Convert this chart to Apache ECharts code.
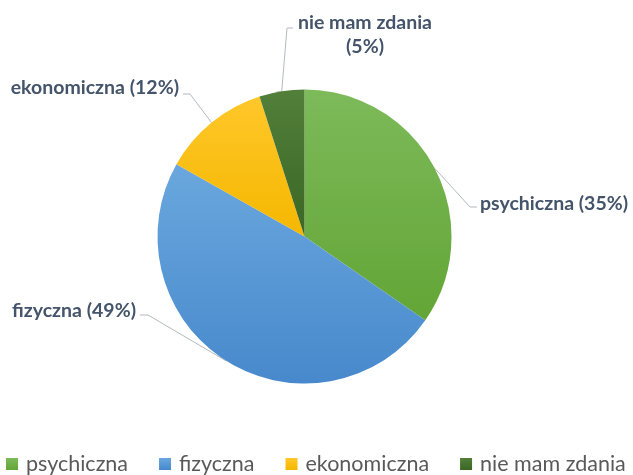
<!DOCTYPE html>
<html><head><meta charset="utf-8">
<script src="https://cdn.jsdelivr.net/npm/echarts@6/dist/echarts.min.js"></script>
<style>html,body{margin:0;padding:0;background:#fff}#c{width:633px;height:475px}</style>
</head><body><div id="c"></div>
<script>
const categories = ['psychiczna', 'fizyczna', 'ekonomiczna', 'nie mam zdania'];
const values = [35, 49, 12, 5];
const colorsTop = ['#7dba5a', '#6aa7de', '#ffc72a', '#527f3a'];
const colorsBottom = ['#63a536', '#4789cc', '#f5b700', '#3b6625'];

// label placement (layout, not data)
const labelPos = [
  {x: 480, y: 204, align: 'left', verticalAlign: 'middle', bend: [470, 207], end: [477, 207]},
  {x: 136, y: 311, align: 'right', verticalAlign: 'middle', bend: [148, 315], end: [140, 315]},
  {x: 179, y: 88, align: 'right', verticalAlign: 'middle', bend: [190, 94], end: [183, 94]},
  {x: 365, y: 35, align: 'center', verticalAlign: 'middle', bend: [287, 28], end: [293, 28]}
];

const chart = echarts.init(document.getElementById('c'));
chart.setOption({
  animation: false,
  legend: {
    top: 453, left: 6, width: 650, padding: 0,
    itemWidth: 12, itemHeight: 12, itemGap: 31,
    icon: 'rect',
    textStyle: {fontFamily: 'Lato', fontSize: 21.5, color: '#595959', padding: [0, 0, 0, 3]},
    data: categories
  },
  series: [{
    type: 'pie',
    center: [304.5, 236.5],
    radius: 147,
    startAngle: 90,
    clockwise: true,
    avoidLabelOverlap: false,
    data: categories.map((n, i) => ({
      name: n, value: values[i],
      itemStyle: {color: new echarts.graphic.LinearGradient(0, 0, 0, 1, [
        {offset: 0, color: colorsTop[i]}, {offset: 1, color: colorsBottom[i]}])}
    })),
    label: {
      show: true, position: 'outside',
      fontFamily: 'Lato', fontWeight: 'bold', fontSize: 19.5, color: '#44546a', lineHeight: 24,
      formatter: p => p.dataIndex === 3 ? p.name + '\n(' + p.value + '%)' : p.name + ' (' + p.value + '%)'
    },
    labelLine: {show: true, length: 10, length2: 10, lineStyle: {color: '#b4b9c0', width: 1}},
    labelLayout: function (params) {
      const L = labelPos[params.dataIndex];
      const p0 = params.labelLinePoints ? params.labelLinePoints[0] : L.bend;
      return {
        x: L.x, y: L.y, align: L.align, verticalAlign: L.verticalAlign,
        labelLinePoints: [p0, L.bend, L.end]
      };
    }
  }]
});
</script></body></html>
